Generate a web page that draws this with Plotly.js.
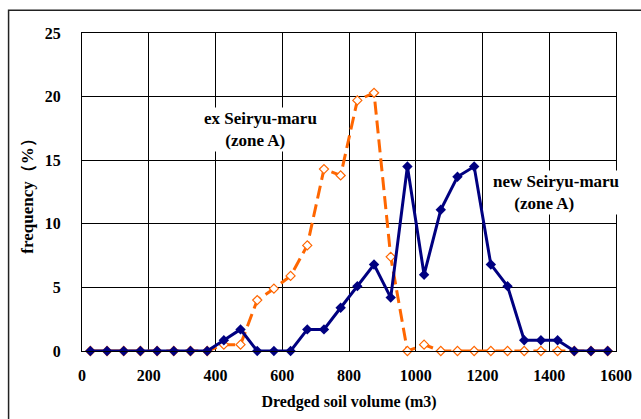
<!DOCTYPE html>
<html>
<head>
<meta charset="utf-8">
<script src="https://cdn.plot.ly/plotly-3.0.1.min.js"></script>
<style>
  html, body { margin: 0; padding: 0; background: #ffffff; }
  #chart { width: 641px; height: 419px; }
</style>
</head>
<body>
<div id="chart"></div>
<script>
// Dredged soil volume bin centres (m3)
var volume = [25, 75, 125, 175, 225, 275, 325, 375, 425, 475, 525, 575, 625, 675, 725, 775,
              825, 875, 925, 975, 1025, 1075, 1125, 1175, 1225, 1275, 1325, 1375, 1425, 1475, 1525, 1575];

// frequency (%) - ex Seiryu-maru (zone A)
var exSeiryu = [0, 0, 0, 0, 0, 0, 0, 0, 0.5, 0.5, 4.0, 4.9, 5.9, 8.3, 14.3, 13.8,
                19.7, 20.3, 7.4, 0, 0.5, 0, 0, 0, 0, 0, 0, 0, 0, 0, 0, 0];

// frequency (%) - new Seiryu-maru (zone A)
var newSeiryu = [0, 0, 0, 0, 0, 0, 0, 0, 0.85, 1.7, 0, 0, 0, 1.7, 1.7, 3.4,
                 5.1, 6.8, 4.2, 14.5, 6.0, 11.1, 13.7, 14.5, 6.8, 5.1, 0.85, 0.85, 0.85, 0, 0, 0];

var xTicks = [0, 200, 400, 600, 800, 1000, 1200, 1400, 1600];
var yTicks = [0, 5, 10, 15, 20, 25];

var labelEx = "ex Seiryu-maru<br>\u00a0\u00a0\u00a0\u00a0\u00a0(zone A)";
var labelNew = "new Seiryu-maru<br>\u00a0\u00a0\u00a0\u00a0\u00a0(zone A)";
var xTitle = "Dredged soil volume (m3)";
var yTitle = "frequency\uFF08%\uFF09";

var serif = "Liberation Serif, Times New Roman, serif";

var traces = [
  {
    x: volume, y: exSeiryu, type: "scatter", mode: "lines+markers",
    name: "ex Seiryu-maru",
    line: { color: "#FF6600", width: 3, dash: "13px,6px" },
    marker: { symbol: "diamond", size: 7, color: "#ffffff", line: { color: "#FF6600", width: 1.2 } },
    cliponaxis: false
  },
  {
    x: volume, y: newSeiryu, type: "scatter", mode: "lines+markers",
    name: "new Seiryu-maru",
    line: { color: "#000080", width: 3 },
    marker: { symbol: "diamond", size: 8, color: "#000080" },
    cliponaxis: false
  }
];

var layout = {
  width: 641, height: 419,
  margin: { l: 82, r: 25, t: 33, b: 68 },
  paper_bgcolor: "#ffffff", plot_bgcolor: "#ffffff",
  showlegend: false,
  font: { family: serif, size: 16, color: "#000000", weight: "bold" },
  xaxis: {
    range: [0, 1600], tickvals: xTicks, ticktext: xTicks.map(String),
    showgrid: true, gridcolor: "#000000", gridwidth: 1,
    showline: true, mirror: true, linecolor: "#000000", linewidth: 1,
    zeroline: false, ticks: "outside", ticklen: 10, tickcolor: "rgba(0,0,0,0)",
    tickfont: { family: serif, size: 16, weight: "bold" },
    title: { text: xTitle, font: { family: serif, size: 16, weight: "bold" }, standoff: 12 }
  },
  yaxis: {
    range: [0, 25], tickvals: yTicks, ticktext: yTicks.map(String),
    showgrid: true, gridcolor: "#000000", gridwidth: 1,
    showline: true, mirror: true, linecolor: "#000000", linewidth: 1,
    zeroline: false, ticks: "outside", ticklen: 17, tickcolor: "rgba(0,0,0,0)",
    tickfont: { family: serif, size: 16, weight: "bold" },
    title: { text: yTitle, font: { family: serif, size: 17, weight: "bold" }, standoff: 6 }
  },
  annotations: [
    {
      xref: "x", yref: "y", x: 534, y: 17.4, xanchor: "center", yanchor: "middle",
      text: labelEx, showarrow: false, align: "left", bgcolor: "#ffffff", borderpad: 1,
      font: { family: serif, size: 17, weight: "bold", color: "#000000" }
    },
    {
      xref: "x", yref: "y", x: 1420, y: 12.5, xanchor: "center", yanchor: "middle",
      text: labelNew, showarrow: false, align: "left", bgcolor: "#ffffff", borderpad: 1,
      font: { family: serif, size: 17, weight: "bold", color: "#000000" }
    }
  ],
  shapes: [
    {
      type: "rect", xref: "paper", yref: "paper",
      x0: -0.1375, x1: 1.2, y0: -0.3, y1: 1.0713,
      line: { color: "#222222", width: 1.5 }, fillcolor: "rgba(0,0,0,0)", layer: "above"
    }
  ]
};

Plotly.newPlot("chart", traces, layout, { staticPlot: true, displayModeBar: false });
</script>
</body>
</html>
